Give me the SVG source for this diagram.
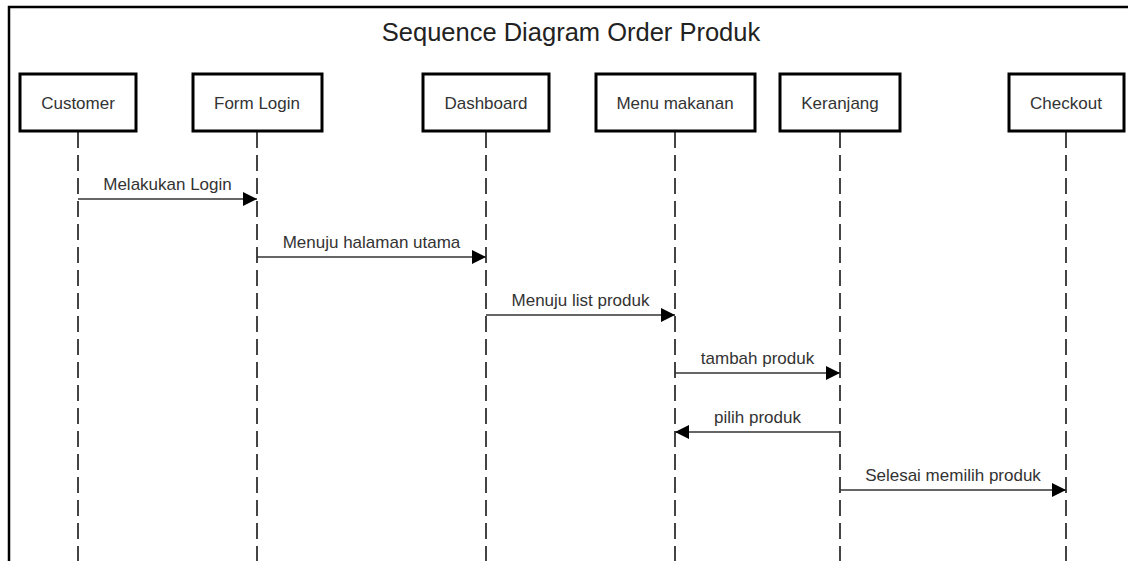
<svg xmlns="http://www.w3.org/2000/svg" width="1128" height="561" viewBox="0 0 1128 561">
<style>
.box{fill:#fff;stroke:#000;stroke-width:3}
.lbl{font-family:"Liberation Sans",Arial,sans-serif;font-size:17px;fill:#333;text-anchor:middle}
.life{stroke:#444;stroke-width:2;stroke-dasharray:16 7;fill:none}
.msg{stroke:#333;stroke-width:1.6;fill:none;marker-end:url(#ah)}
.title{font-family:"Liberation Sans",Arial,sans-serif;font-size:25.5px;fill:#222;text-anchor:middle}
</style>
<defs>
<marker id="ah" markerWidth="14" markerHeight="14" refX="14" refY="7" orient="auto" markerUnits="userSpaceOnUse">
<path d="M0,0 L14,7 L0,14 Z" fill="#000"/>
</marker>
</defs>
<rect width="1128" height="561" fill="#fff"/>
<g id="frame">
<path d="M9,561 L9,7 L1128,7" fill="none" stroke="#000" stroke-width="2.5"/>
<text class="title" x="571" y="41">Sequence Diagram Order Produk</text>
</g>
<g id="lifelines">
<line class="life" x1="78" y1="132" x2="78" y2="561"/>
<line class="life" x1="257" y1="132" x2="257" y2="561"/>
<line class="life" x1="486" y1="132" x2="486" y2="561"/>
<line class="life" x1="675" y1="132" x2="675" y2="561"/>
<line class="life" x1="840" y1="132" x2="840" y2="561"/>
<line class="life" x1="1066" y1="132" x2="1066" y2="561"/>
</g>
<g id="customer"><rect class="box" x="20" y="74" width="116" height="57"/><text class="lbl" x="78" y="109">Customer</text></g>
<g id="formlogin"><rect class="box" x="193" y="74" width="129" height="57"/><text class="lbl" x="257" y="109">Form Login</text></g>
<g id="dashboard"><rect class="box" x="423" y="74" width="126" height="57"/><text class="lbl" x="486" y="109">Dashboard</text></g>
<g id="menumakanan"><rect class="box" x="596" y="74" width="159" height="57"/><text class="lbl" x="675" y="109">Menu makanan</text></g>
<g id="keranjang"><rect class="box" x="780" y="74" width="120" height="57"/><text class="lbl" x="840" y="109">Keranjang</text></g>
<g id="checkout"><rect class="box" x="1009" y="74" width="115" height="57"/><text class="lbl" x="1066" y="109">Checkout</text></g>
<g id="connectors">
<line class="msg" x1="78" y1="199" x2="257" y2="199"/>
<text class="lbl" x="167.5" y="190">Melakukan Login</text>
<line class="msg" x1="257" y1="257" x2="486" y2="257"/>
<text class="lbl" x="371.5" y="248">Menuju halaman utama</text>
<line class="msg" x1="486" y1="315" x2="675" y2="315"/>
<text class="lbl" x="580.5" y="306">Menuju list produk</text>
<line class="msg" x1="675" y1="373" x2="840" y2="373"/>
<text class="lbl" x="757.5" y="364">tambah produk</text>
<line class="msg" x1="840" y1="432" x2="675" y2="432"/>
<text class="lbl" x="757.5" y="423">pilih produk</text>
<line class="msg" x1="840" y1="490" x2="1066" y2="490"/>
<text class="lbl" x="953" y="481">Selesai memilih produk</text>
</g>
</svg>
